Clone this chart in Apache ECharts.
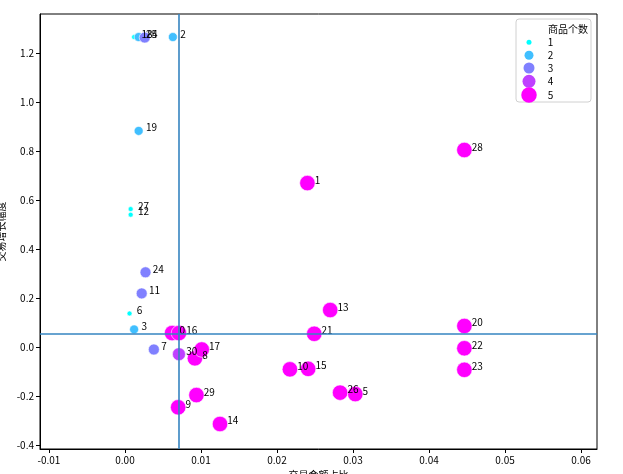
<!DOCTYPE html>
<html><head><meta charset="utf-8">
<script src="https://cdn.jsdelivr.net/npm/echarts@6/dist/echarts.min.js"></script>
<style>html,body{margin:0;padding:0;background:#fff}#c{width:623px;height:474px}</style>
</head><body><div id="c"></div>
<script>
// point ids (labels)
var ids    = [0,1,2,3,4,5,6,7,8,9,10,11,12,13,14,15,16,17,18,19,20,21,22,23,24,25,26,27,28,29,30];
// 交易金额占比
var xs     = [0.0062,0.0240,0.0063,0.0012,0.0026,0.0303,0.0006,0.0038,0.0092,0.0070,0.0217,0.0022,0.00075,0.0270,0.0125,0.0241,0.0071,0.0101,0.0012,0.0018,0.04465,0.0249,0.04465,0.04465,0.0027,0.0018,0.0283,0.00075,0.04465,0.0094,0.0071];
// 交易增长幅度
var ys     = [0.057,0.669,1.265,0.072,1.263,-0.192,0.137,-0.010,-0.046,-0.246,-0.091,0.219,0.540,0.151,-0.314,-0.089,0.057,-0.010,1.265,0.882,0.086,0.054,-0.005,-0.093,0.305,1.265,-0.186,0.563,0.804,-0.196,-0.029];
// 商品个数
var counts = [5,5,2,2,3,5,1,3,5,5,5,3,1,5,5,5,5,5,1,2,5,5,5,5,3,2,5,1,5,5,4];
var levels = [1,2,3,4,5];
var xTicks = [-0.01,0.00,0.01,0.02,0.03,0.04,0.05,0.06];
var yTicks = [-0.4,-0.2,0.0,0.2,0.4,0.6,0.8,1.0,1.2];
var refX = [0.0071];
var refY = [0.053];

var colors = ['#00ffff','#40bfff','#8080ff','#bf40ff','#ff00ff'];
var sizes  = [5,9,11,13,15.5];
var FONT = 'Noto Sans CJK SC';

var series = levels.map(function(lv, i){
  var data = [];
  for (var k=0;k<ids.length;k++){ if (counts[k]===lv) data.push([xs[k], ys[k], ids[k]]); }
  var s = sizes[i];
  return {
    name: String(lv), type:'scatter', data:data, symbolSize:s, z:3,
    itemStyle:{color:colors[i], opacity:1, borderColor:'#fff', borderWidth:0.6},
    label:{show:true, position:[s/2 + 7.6, s/2 - 3], align:'left', verticalAlign:'middle',
      formatter:function(p){return String(p.value[2]);}, color:'#000', fontSize:10, fontFamily:FONT},
    labelLayout:{hideOverlap:false}
  };
});
series.push({
  type:'scatter', data:[], z:2, silent:true,
  markLine:{silent:true, symbol:'none', animation:false, precision:6,
    lineStyle:{color:'#3584c0', width:1.6, type:'solid'}, label:{show:false},
    data:[{xAxis:refX[0]},{yAxis:refY[0]}]}
});

var legends = levels.map(function(lv,i){
  var s = sizes[i];
  var cy = [42.3,55.3,68,81.3,94.3][i];
  return {
    data:[{name:String(lv), icon:'circle', itemStyle:{color:colors[i], borderWidth:0}}],
    left: 529 - s/2, top: cy - 7, padding:0, z:20,
    itemWidth:s, itemHeight:s, selectedMode:false,
    textStyle:{fontSize:10, fontFamily:FONT, color:'#000', padding:[0,0,0, 547.7-(529+s/2+5)], height:14, lineHeight:14}
  };
});

var chart = echarts.init(document.getElementById('c'), null, {renderer:'canvas'});
chart.setOption({
  animation:false,
  backgroundColor:'#fff',
  grid:{left:40, right:26, top:14, bottom:25, outerBoundsMode:'none', containLabel:false, show:true, borderColor:'#000', borderWidth:1, backgroundColor:'transparent'},
  title:{text:'商品个数', left:548, top:24, padding:0, z:20, textStyle:{fontSize:10, fontWeight:'normal', fontFamily:FONT, color:'#000'}},
  graphic:[{type:'rect', shape:{x:516, y:19, width:75, height:83, r:3}, style:{fill:'#fff', stroke:'#d0d0d0', lineWidth:1}, z:4}],
  legend: legends,
  xAxis:{type:'value', min:-0.01118, max:0.0621, splitLine:{show:false},
    name:'交易金额占比', nameLocation:'middle', nameGap:16, nameTextStyle:{fontSize:10, fontFamily:FONT, color:'#000'},
    axisLine:{show:true, onZero:false, lineStyle:{color:'#000', width:1}},
    axisTick:{show:true, length:4, customValues:xTicks, lineStyle:{color:'#000'}},
    axisLabel:{customValues:xTicks, fontSize:10, fontFamily:FONT, color:'#000', margin:6, formatter:function(v){return v.toFixed(2);}}},
  yAxis:{type:'value', min:-0.416, max:1.359, splitLine:{show:false},
    name:'交易增长幅度', nameLocation:'middle', nameGap:31, nameTextStyle:{fontSize:10, fontFamily:FONT, color:'#000'},
    axisLine:{show:true, onZero:false, lineStyle:{color:'#000', width:1}},
    axisTick:{show:true, length:4, customValues:yTicks, lineStyle:{color:'#000'}},
    axisLabel:{customValues:yTicks, fontSize:10, fontFamily:FONT, color:'#000', margin:6, formatter:function(v){return v.toFixed(1);}}},
  series: series
});
</script></body></html>
